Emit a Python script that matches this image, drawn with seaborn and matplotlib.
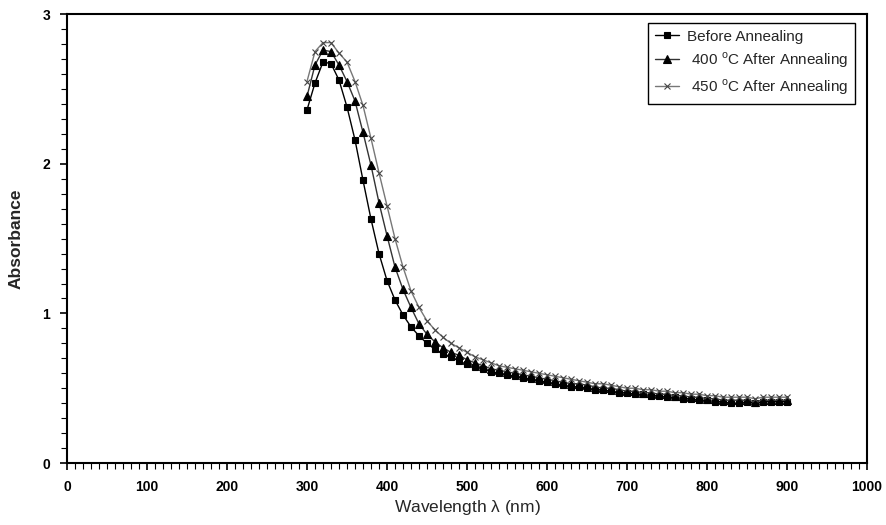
import numpy as np
import pandas as pd
import matplotlib
matplotlib.use("Agg")
import matplotlib.pyplot as plt
import seaborn as sns
from matplotlib.ticker import MultipleLocator

# wavelength grid (nm)
wavelength = list(range(300, 910, 10))

before = [2.36, 2.54, 2.68, 2.67, 2.56, 2.38, 2.16, 1.89, 1.63, 1.40,
          1.22, 1.09, 0.99, 0.91, 0.85, 0.80, 0.76, 0.73, 0.71, 0.68,
          0.66, 0.64, 0.63, 0.61, 0.60, 0.59, 0.58, 0.57, 0.56, 0.55,
          0.54, 0.53, 0.52, 0.51, 0.51, 0.50, 0.49, 0.49, 0.48, 0.47,
          0.47, 0.46, 0.46, 0.45, 0.45, 0.44, 0.44, 0.43, 0.43, 0.42,
          0.42, 0.41, 0.41, 0.40, 0.40, 0.41, 0.40, 0.41, 0.41, 0.41,
          0.41]

ann400 = [2.45, 2.66, 2.76, 2.75, 2.66, 2.55, 2.42, 2.21, 1.99, 1.74,
          1.52, 1.31, 1.16, 1.04, 0.93, 0.86, 0.81, 0.77, 0.74, 0.72,
          0.69, 0.67, 0.65, 0.63, 0.62, 0.61, 0.60, 0.59, 0.58, 0.57,
          0.56, 0.55, 0.54, 0.53, 0.53, 0.52, 0.51, 0.50, 0.50, 0.49,
          0.48, 0.48, 0.47, 0.47, 0.46, 0.46, 0.45, 0.45, 0.44, 0.44,
          0.43, 0.43, 0.42, 0.42, 0.42, 0.42, 0.41, 0.42, 0.42, 0.42,
          0.42]

ann450 = [2.55, 2.75, 2.81, 2.81, 2.74, 2.68, 2.55, 2.39, 2.17, 1.94,
          1.72, 1.50, 1.31, 1.15, 1.04, 0.95, 0.89, 0.84, 0.80, 0.77,
          0.74, 0.71, 0.69, 0.67, 0.65, 0.64, 0.63, 0.62, 0.61, 0.60,
          0.59, 0.58, 0.57, 0.56, 0.55, 0.54, 0.53, 0.53, 0.52, 0.51,
          0.50, 0.50, 0.49, 0.49, 0.48, 0.48, 0.47, 0.47, 0.46, 0.46,
          0.45, 0.45, 0.44, 0.44, 0.44, 0.44, 0.43, 0.44, 0.44, 0.44,
          0.44]

labels = ["Before Annealing",
          r" 400 $^{\mathrm{o}}$C After Annealing",
          r" 450 $^{\mathrm{o}}$C After Annealing"]

sns.set_style("ticks")
plt.rcParams['font.family'] = ['Liberation Sans', 'DejaVu Sans']
plt.rcParams['mathtext.fontset'] = 'custom'
plt.rcParams['mathtext.rm'] = 'Liberation Sans'

fig = plt.figure(figsize=(8.87, 5.25), dpi=100)
ax = fig.add_axes([0.0755, 0.118, 0.902, 0.855])

styles = [("s", "black", 5, "black"),
          ("^", "black", 5.5, "#333333"),
          ("x", "#444444", 4.5, "#777777")]

for vals, lab, (mk, mc, ms, lc) in zip([before, ann400, ann450], labels, styles):
    sns.lineplot(x=wavelength, y=vals, ax=ax, label=lab, color=lc,
                 linewidth=1.0, marker=mk, markersize=ms,
                 markerfacecolor=mc, markeredgecolor=mc, markeredgewidth=0.8)

ax.set_xlim(0, 1000)
ax.set_ylim(0, 3)
ax.xaxis.set_major_locator(MultipleLocator(100))
ax.xaxis.set_minor_locator(MultipleLocator(10))
ax.yaxis.set_major_locator(MultipleLocator(1))
ax.yaxis.set_minor_locator(MultipleLocator(0.1))
ax.tick_params(which='major', direction='out', length=5, width=1.2, colors='black', pad=7)
ax.tick_params(which='minor', direction='out', length=4, width=0.8, colors='black')
for lbl in ax.get_xticklabels() + ax.get_yticklabels():
    lbl.set_fontsize(10)
    lbl.set_fontweight('bold')

for sp in ax.spines.values():
    sp.set_visible(True)
    sp.set_linewidth(1.5)
    sp.set_color('black')

ax.set_xlabel(r"Wavelength $\mathregular{\lambda}$ (nm)", fontsize=12.5, labelpad=3)
ax.set_ylabel("Absorbance", fontsize=12.5, fontweight='bold', labelpad=14)

leg = ax.legend(loc='upper right', bbox_to_anchor=(0.994, 0.998), fontsize=11,
                frameon=True, fancybox=False, edgecolor='black', framealpha=1,
                handlelength=1.6, handletextpad=0.5, borderpad=0.45,
                labelspacing=0.45)
leg.get_frame().set_linewidth(1.0)

fig.savefig("out.png", dpi=100, facecolor='white')
